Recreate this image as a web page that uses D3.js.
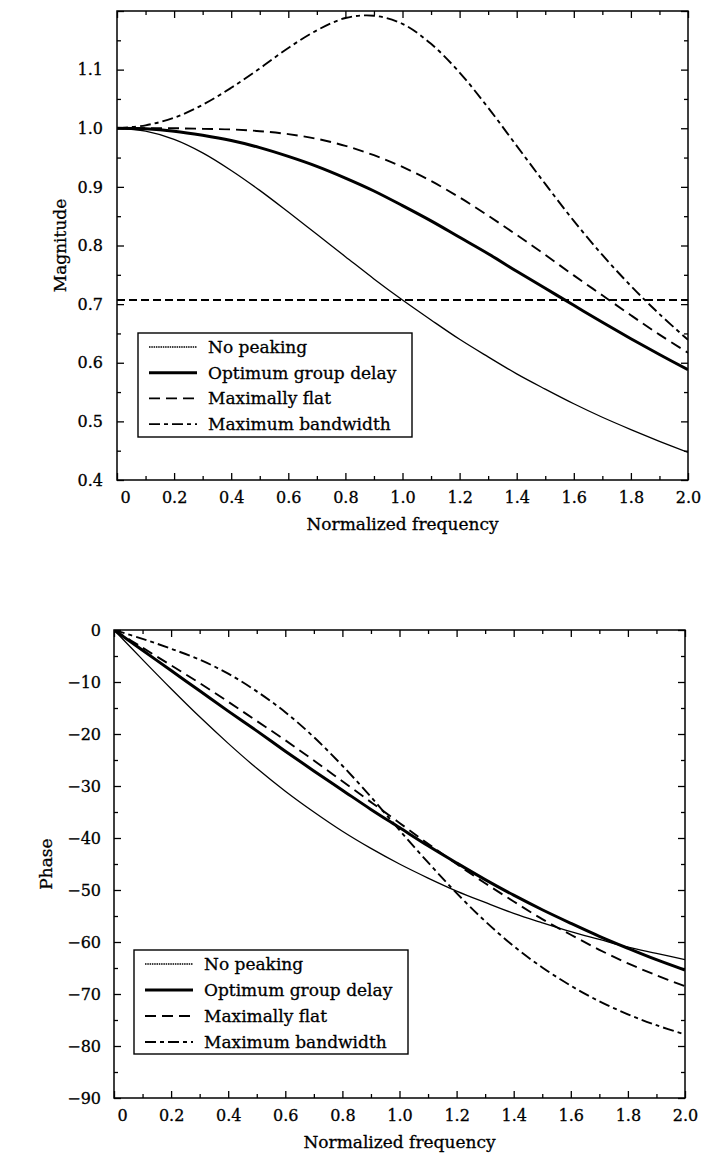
<!DOCTYPE html>
<html>
<head>
<meta charset="utf-8">
<script src="https://cdn.jsdelivr.net/npm/d3@7"></script>
<style>
  html, body { margin: 0; padding: 0; background: #fff; }
  svg { display: block; }
</style>
</head>
<body>
<script>
// ---------------- DATA ----------------
const freq = [0, 0.1, 0.2, 0.3, 0.4, 0.5, 0.6, 0.7, 0.8, 0.9, 1.0,
              1.1, 1.2, 1.3, 1.4, 1.5, 1.6, 1.7, 1.8, 1.9, 2.0];

const seriesNames = ["No peaking", "Optimum group delay", "Maximally flat", "Maximum bandwidth"];

const magNoPeak  = [1.000, 0.995, 0.981, 0.958, 0.928, 0.894, 0.857, 0.819, 0.781, 0.743, 0.707,
                    0.673, 0.640, 0.610, 0.581, 0.555, 0.530, 0.507, 0.486, 0.466, 0.447];
const magOptGD   = [1.000, 0.999, 0.995, 0.988, 0.979, 0.967, 0.952, 0.935, 0.915, 0.893, 0.868,
                    0.842, 0.814, 0.786, 0.756, 0.727, 0.698, 0.669, 0.641, 0.614, 0.588];
const magMaxFlat = [1.000, 1.000, 1.000, 0.999, 0.998, 0.995, 0.990, 0.982, 0.970, 0.954, 0.934,
                    0.910, 0.882, 0.851, 0.818, 0.784, 0.749, 0.715, 0.681, 0.648, 0.617];
const magMaxBW   = [1.000, 1.005, 1.018, 1.040, 1.069, 1.102, 1.137, 1.167, 1.188, 1.192, 1.178,
                    1.144, 1.095, 1.035, 0.970, 0.905, 0.842, 0.784, 0.731, 0.683, 0.639];

const phNoPeak  = [0, -5.7, -11.3, -16.7, -21.8, -26.6, -31.0, -35.0, -38.7, -42.0, -45.0,
                   -47.7, -50.2, -52.4, -54.5, -56.3, -58.0, -59.5, -61.0, -62.2, -63.4];
const phOptGD   = [0, -3.9, -7.8, -11.7, -15.6, -19.4, -23.3, -27.1, -30.8, -34.5, -38.0,
                   -41.5, -44.8, -48.0, -51.0, -53.8, -56.4, -58.9, -61.2, -63.4, -65.4];
const phMaxFlat = [0, -3.4, -6.8, -10.2, -13.8, -17.5, -21.2, -25.1, -29.1, -33.1, -37.1,
                   -41.1, -45.0, -48.7, -52.2, -55.6, -58.6, -61.5, -64.1, -66.4, -68.5];
const phMaxBW   = [0, -1.7, -3.6, -5.7, -8.4, -11.8, -15.8, -20.6, -26.1, -32.1, -38.5,
                   -44.7, -50.6, -56.0, -60.8, -64.9, -68.4, -71.4, -73.9, -76.0, -77.8];

const halfPower = [0.707];   // -3 dB reference line on the magnitude plot

const xTicksMajor = [0, 0.2, 0.4, 0.6, 0.8, 1.0, 1.2, 1.4, 1.6, 1.8, 2.0];
const xTickLabels = ["0", "0.2", "0.4", "0.6", "0.8", "1.0", "1.2", "1.4", "1.6", "1.8", "2.0"];
const xTicksMinor = [0.1, 0.3, 0.5, 0.7, 0.9, 1.1, 1.3, 1.5, 1.7, 1.9];

const magTicksMajor = [0.4, 0.5, 0.6, 0.7, 0.8, 0.9, 1.0, 1.1, 1.2];
const magTickLabels = ["0.4", "0.5", "0.6", "0.7", "0.8", "0.9", "1.0", "1.1", ""];
const magTicksMinor = [0.45, 0.55, 0.65, 0.75, 0.85, 0.95, 1.05, 1.15];

const phTicksMajor = [0, -10, -20, -30, -40, -50, -60, -70, -80, -90];
const phTickLabels = ["0", "\u221210", "\u221220", "\u221230", "\u221240", "\u221250", "\u221260", "\u221270", "\u221280", "\u221290"];
const phTicksMinor = [-5, -15, -25, -35, -45, -55, -65, -75, -85];

// ---------------- STYLES ----------------
const FONT = "'DejaVu Serif', serif";
const styles = [
  { width: 1.3, dash: null },            // No peaking
  { width: 3.0, dash: null },            // Optimum group delay
  { width: 1.9, dash: "11,6" },          // Maximally flat
  { width: 1.9, dash: "11,4,4,4" }       // Maximum bandwidth
];

const W = 712, H = 1153;
const svg = d3.select("body").append("svg")
  .attr("width", W).attr("height", H)
  .style("background", "#fff");

function heavy(sel) {
  sel.attr("stroke", "#000").attr("stroke-width", 0.3).attr("paint-order", "stroke");
}

function drawPanel(cfg) {
  const x = d3.scaleLinear().domain([0, 2]).range([cfg.left, cfg.right]);
  const y = d3.scaleLinear().domain(cfg.yDomain).range([cfg.bottom, cfg.top]);
  const g = svg.append("g");

  const clipId = "clip" + cfg.id;
  g.append("clipPath").attr("id", clipId).append("rect")
    .attr("x", cfg.left).attr("y", cfg.top)
    .attr("width", cfg.right - cfg.left).attr("height", cfg.bottom - cfg.top);

  function styleAxis(sel) {
    sel.select(".domain").remove();
    sel.selectAll(".tick line").attr("stroke", "#000").attr("stroke-width", 1.3);
    sel.selectAll("text").attr("font-family", FONT).attr("font-size", 16).attr("fill", "#000").call(heavy);
  }

  // bottom major
  const xb = g.append("g").attr("transform", `translate(0,${cfg.bottom})`)
    .call(d3.axisBottom(x).tickValues(xTicksMajor).tickSize(-7).tickPadding(12)
      .tickFormat((d, i) => xTickLabels[i]))
    .call(styleAxis);
  // the "0" label sits slightly right of the frame corner in the reference
  xb.selectAll(".tick text").filter(d => d === 0).attr("dx", 8);

  g.append("g").attr("transform", `translate(0,${cfg.bottom})`)
    .call(d3.axisBottom(x).tickValues(xTicksMinor).tickSize(-4).tickFormat(""))
    .call(styleAxis);
  // top
  g.append("g").attr("transform", `translate(0,${cfg.top})`)
    .call(d3.axisTop(x).tickValues(xTicksMajor).tickSize(-7).tickFormat(""))
    .call(styleAxis);
  g.append("g").attr("transform", `translate(0,${cfg.top})`)
    .call(d3.axisTop(x).tickValues(xTicksMinor).tickSize(-4).tickFormat(""))
    .call(styleAxis);
  // left
  g.append("g").attr("transform", `translate(${cfg.left},0)`)
    .call(d3.axisLeft(y).tickValues(cfg.yMajor).tickSize(-7).tickPadding(cfg.yPad)
      .tickFormat((d, i) => cfg.yLabels[i]))
    .call(styleAxis);
  g.append("g").attr("transform", `translate(${cfg.left},0)`)
    .call(d3.axisLeft(y).tickValues(cfg.yMinor).tickSize(-4).tickFormat(""))
    .call(styleAxis);
  // right
  g.append("g").attr("transform", `translate(${cfg.right},0)`)
    .call(d3.axisRight(y).tickValues(cfg.yMajor).tickSize(-7).tickFormat(""))
    .call(styleAxis);
  g.append("g").attr("transform", `translate(${cfg.right},0)`)
    .call(d3.axisRight(y).tickValues(cfg.yMinor).tickSize(-4).tickFormat(""))
    .call(styleAxis);

  // frame
  g.append("rect")
    .attr("x", cfg.left).attr("y", cfg.top)
    .attr("width", cfg.right - cfg.left).attr("height", cfg.bottom - cfg.top)
    .attr("fill", "none").attr("stroke", "#000").attr("stroke-width", 1.5);

  const plot = g.append("g").attr("clip-path", `url(#${clipId})`);

  if (cfg.refLine) {
    cfg.refLine.forEach(v => {
      plot.append("line")
        .attr("x1", x(0)).attr("x2", x(2))
        .attr("y1", y(v)).attr("y2", y(v))
        .attr("stroke", "#000").attr("stroke-width", 2)
        .attr("stroke-dasharray", "8,4");
    });
  }

  const line = d3.line()
    .x((d, i) => x(freq[i]))
    .y(d => y(d))
    .curve(d3.curveCatmullRom.alpha(0.5));

  cfg.series.forEach((vals, k) => {
    plot.append("path")
      .attr("d", line(vals))
      .attr("fill", "none")
      .attr("stroke", "#000")
      .attr("stroke-width", styles[k].width)
      .attr("stroke-dasharray", styles[k].dash)
      .attr("stroke-linejoin", "round");
  });

  // legend
  const L = cfg.legend;
  g.append("rect")
    .attr("x", L.x).attr("y", L.y).attr("width", L.w).attr("height", L.h)
    .attr("fill", "#fff").attr("stroke", "#000").attr("stroke-width", 1.4);
  seriesNames.forEach((name, k) => {
    const cy = L.y + L.row0 + k * L.dy;
    g.append("line")
      .attr("x1", L.x + 11).attr("x2", L.x + 59)
      .attr("y1", cy).attr("y2", cy)
      .attr("stroke", "#000")
      .attr("stroke-width", k === 0 ? 1.3 : styles[k].width)
      .attr("stroke-dasharray", k === 0 ? "1.5,0.8" : styles[k].dash);
    g.append("text")
      .attr("x", L.x + 70).attr("y", cy + 6)
      .attr("font-family", FONT).attr("font-size", 17)
      .call(heavy)
      .text(name);
  });

  // axis titles
  g.append("text")
    .attr("x", (cfg.left + cfg.right) / 2).attr("y", cfg.xTitleY)
    .attr("text-anchor", "middle")
    .attr("font-family", FONT).attr("font-size", 17)
    .call(heavy)
    .text("Normalized frequency");
  g.append("text")
    .attr("transform", `translate(${cfg.yTitleX},${(cfg.top + cfg.bottom) / 2}) rotate(-90)`)
    .attr("text-anchor", "middle")
    .attr("font-family", FONT).attr("font-size", 17)
    .call(heavy)
    .text(cfg.yTitle);
}

drawPanel({
  id: "mag",
  left: 117, right: 688, top: 11, bottom: 480,
  yDomain: [0.4, 1.2],
  yMajor: magTicksMajor, yLabels: magTickLabels, yMinor: magTicksMinor, yPad: 14,
  series: [magNoPeak, magOptGD, magMaxFlat, magMaxBW],
  refLine: halfPower,
  legend: { x: 138, y: 333, w: 274, h: 104, row0: 14, dy: 25.7 },
  xTitleY: 530, yTitleX: 66, yTitle: "Magnitude"
});

drawPanel({
  id: "ph",
  left: 114, right: 685, top: 630, bottom: 1098,
  yDomain: [-90, 0],
  yMajor: phTicksMajor, yLabels: phTickLabels, yMinor: phTicksMinor, yPad: 13,
  series: [phNoPeak, phOptGD, phMaxFlat, phMaxBW],
  refLine: null,
  legend: { x: 134, y: 950, w: 274, h: 104, row0: 14, dy: 26 },
  xTitleY: 1148, yTitleX: 52, yTitle: "Phase"
});
</script>
</body>
</html>
